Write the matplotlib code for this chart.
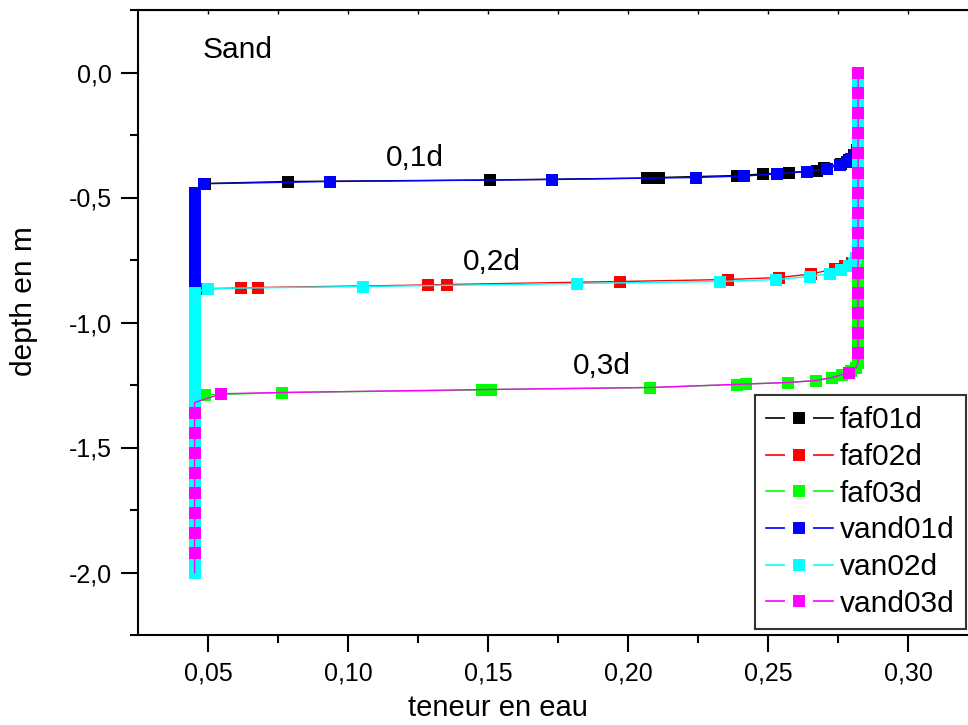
import matplotlib
matplotlib.use("Agg")
import matplotlib.pyplot as plt
from matplotlib.lines import Line2D

plt.rcParams['font.family'] = ['Liberation Sans', 'DejaVu Sans']

# depth grid of the model nodes (m)
grid = [0.0, -0.04, -0.08, -0.12, -0.16, -0.20, -0.24, -0.28, -0.32, -0.36,
        -0.40, -0.44, -0.48, -0.52, -0.56, -0.60, -0.64, -0.68, -0.72, -0.76,
        -0.80, -0.84, -0.88, -0.92, -0.96, -1.00, -1.04, -1.08, -1.12, -1.16,
        -1.20, -1.24, -1.28, -1.32, -1.36, -1.40, -1.44, -1.48, -1.52, -1.56,
        -1.60, -1.64, -1.68, -1.72, -1.76, -1.80, -1.84, -1.88, -1.92, -1.96, -2.00]
x_sat = 0.2822   # saturated water content
x_res = 0.0452   # initial water content

# wetting fronts
faf01_x = [0.2818, 0.2808, 0.2790, 0.2760, 0.2700, 0.2675, 0.2575, 0.2482, 0.2390, 0.2110, 0.2068, 0.1507, 0.0785, 0.0490]
faf01_y = [-0.31, -0.33, -0.35, -0.365, -0.38, -0.392, -0.40, -0.406, -0.412, -0.42, -0.422, -0.43, -0.436, -0.444]
faf02_x = [0.2815, 0.2800, 0.2775, 0.2740, 0.2654, 0.2540, 0.2357, 0.1970, 0.1355, 0.1285, 0.0678, 0.0617, 0.0462]
faf02_y = [-0.74, -0.76, -0.775, -0.785, -0.806, -0.82, -0.828, -0.836, -0.848, -0.85, -0.86, -0.862, -0.866]
faf03_x = [0.2815, 0.2795, 0.2765, 0.2729, 0.2672, 0.2572, 0.2420, 0.2390, 0.2079, 0.1510, 0.1480, 0.0764, 0.0490]
faf03_y = [-1.18, -1.195, -1.208, -1.22, -1.232, -1.24, -1.246, -1.248, -1.26, -1.268, -1.27, -1.28, -1.29]
van01_x = [0.2818, 0.2810, 0.2798, 0.2782, 0.2758, 0.2711, 0.2640, 0.2533, 0.2415, 0.2243, 0.1729, 0.0935, 0.0485]
van01_y = [-0.31, -0.33, -0.345, -0.358, -0.37, -0.384, -0.396, -0.406, -0.414, -0.42, -0.428, -0.436, -0.445]
van02_x = [0.2816, 0.2806, 0.2790, 0.2760, 0.2720, 0.2650, 0.2530, 0.2329, 0.1818, 0.1053, 0.0501]
van02_y = [-0.74, -0.76, -0.775, -0.79, -0.804, -0.816, -0.828, -0.836, -0.844, -0.856, -0.864]
van03_x = [0.2815, 0.2800, 0.2790, 0.2765, 0.2729, 0.2672, 0.2572, 0.2400, 0.2079, 0.1500, 0.0764, 0.0548]
van03_y = [-1.18, -1.19, -1.20, -1.208, -1.22, -1.232, -1.24, -1.247, -1.26, -1.268, -1.28, -1.285]
# vand03d symbols are only shown on every other node
van03_sym_y = [0.0, -0.08, -0.16, -0.24, -0.32, -0.40, -0.48, -0.56, -0.64, -0.72, -0.80,
               -0.88, -0.96, -1.04, -1.12, -1.20, -1.285, -1.36, -1.44, -1.52, -1.60,
               -1.68, -1.76, -1.84, -1.92]

# (name, color, top of front, front x, front y, bottom of front)
series = [
    ('faf01d', 'black', -0.28, faf01_x, faf01_y, -0.46),
    ('faf02d', '#ff0000', -0.72, faf02_x, faf02_y, -0.88),
    ('faf03d', '#00ff00', -1.16, faf03_x, faf03_y, -1.30),
    ('vand01d', '#0000ff', -0.28, van01_x, van01_y, -0.46),
    ('van02d', '#00ffff', -0.72, van02_x, van02_y, -0.88),
    ('vand03d', '#ff00ff', -1.16, van03_x, van03_y, -1.30),
]

fig = plt.figure(figsize=(9.68, 7.25), dpi=100)
ax = fig.add_axes([138/968, 90/725, 840/968, 625/725])

handles = []
for name, c, top, fx, fy, bot in series:
    top_d = [d for d in grid if d >= top - 1e-9]
    bot_d = [d for d in grid if d <= bot + 1e-9]
    xs = [x_sat]*len(top_d) + fx + [x_res]*len(bot_d)
    ys = top_d + fy + bot_d
    if name == 'vand03d':
        ax.plot(xs, ys, '-', color=c, lw=1.0)
        mx = [x for x, y in zip(xs, ys) if any(abs(y - v) < 1e-6 for v in van03_sym_y)]
        my = [y for y in ys if any(abs(y - v) < 1e-6 for v in van03_sym_y)]
        ax.plot(mx, my, 's', color=c, ms=9, mew=0)
    else:
        ax.plot(xs, ys, '-', color=c, lw=1.0, marker='s', ms=9, mew=0)
    # legend entry: line broken around the symbol
    ln = Line2D([], [], color=c, lw=1.2)
    mk = Line2D([], [], ls='none', marker='s', ms=14.4, mfc=c, mec='white', mew=5.8)
    handles.append((ln, mk))

ax.set_xlim(0.025, 0.325)
ax.set_ylim(-2.25, 0.25)
ticks_x = [0.05, 0.10, 0.15, 0.20, 0.25, 0.30]
minor_x = [0.075, 0.125, 0.175, 0.225, 0.275, 0.325]
ax.set_xticks(ticks_x)
ax.set_xticklabels(['0,05', '0,10', '0,15', '0,20', '0,25', '0,30'])
ax.set_xticks(minor_x, minor=True)
ax.set_yticks([-2.0, -1.5, -1.0, -0.5, 0.0])
ax.set_yticklabels(['-2,0', '-1,5', '-1,0', '-0,5', '0,0'])
ax.set_yticks([-2.25, -1.75, -1.25, -0.75, -0.25, 0.25], minor=True)
ax.tick_params(which='major', direction='out', length=12, width=1.5, labelsize=18, pad=7)
ax.tick_params(which='minor', direction='out', length=6, width=1.5)
for s in ax.spines.values():
    s.set_linewidth(1.5)

# small inner ticks on the top axis
top = ax.secondary_xaxis('top')
top.set_xticks(ticks_x + minor_x)
top.tick_params(direction='in', length=3, width=1.0, labeltop=False)

ax.text(0.0481, 0.09, 'Sand', fontsize=21.5, va='center')
ax.text(0.1135, -0.34, '0,1d', fontsize=21.5, va='center')
ax.text(0.141, -0.76, '0,2d', fontsize=21.5, va='center')
ax.text(0.1803, -1.176, '0,3d', fontsize=21.5, va='center')

fig.text(498/968, 1 - 716/725, 'teneur en eau', fontsize=21, ha='center', va='baseline')
fig.text(24/968, 1 - 301/725, 'depth en m', fontsize=21.5, rotation=90,
         ha='center', va='center')

leg = ax.legend(handles, [s[0] for s in series], loc='lower right',
                bbox_to_anchor=(966/968, 96/725), bbox_transform=fig.transFigure,
                fontsize=21.5, frameon=True, fancybox=False, edgecolor='black',
                handlelength=2.25, labelspacing=0.29, borderaxespad=0,
                borderpad=0.38, handletextpad=0.23)
leg.get_frame().set_linewidth(1.5)

fig.savefig('out.png', dpi=100)
